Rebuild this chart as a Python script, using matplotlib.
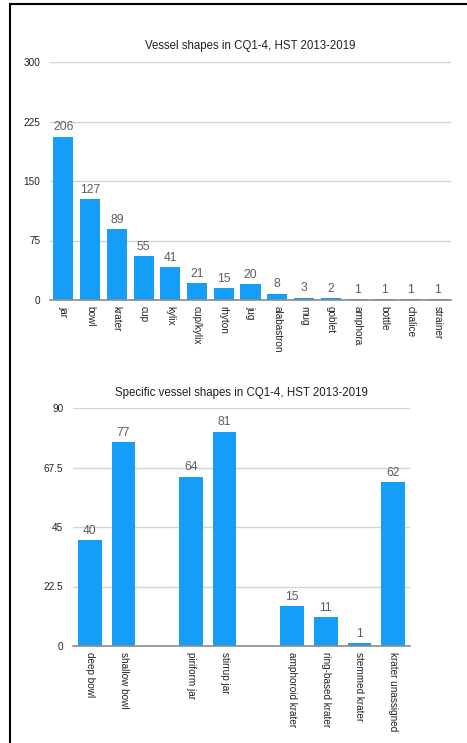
import matplotlib
matplotlib.use("Agg")
from matplotlib import pyplot as plt
from matplotlib.lines import Line2D

plt.rcParams["font.family"] = ["Liberation Sans", "DejaVu Sans"]

shapes = ["jar", "bowl", "krater", "cup", "kylix", "cup/kylix", "rhyton", "jug",
          "alabastron", "mug", "goblet", "amphora", "bottle", "chalice", "strainer"]
shape_counts = [206, 127, 89, 55, 41, 21, 15, 20, 8, 3, 2, 1, 1, 1, 1]

# blank slots are the empty columns between the groups
specific = ["deep bowl", "shallow bowl", "", "piriform jar", "stirrup jar", "",
            "amphoroid krater", "ring-based krater", "stemmed krater", "krater unassigned"]
specific_counts = [40, 77, None, 64, 81, None, 15, 11, 1, 62]

blue = "#169df7"
grid = "#d4d4d4"
label_col = "#5e5e5e"


def draw(ax, labels, values, ymax, step, title, width):
    xs = [i for i, v in enumerate(values) if v is not None]
    vs = [v for v in values if v is not None]
    ax.bar(xs, vs, width=width, color=blue, zorder=3)
    for x, v in zip(xs, vs):
        ax.text(x, v + ymax * 0.014, str(v), ha="center", va="bottom",
                fontsize=8.7, color=label_col, zorder=4)
    ax.set_xlim(-0.5, len(values) - 0.5)
    ax.set_ylim(0, ymax)
    ticks = [step * i for i in range(5)]
    ax.set_yticks(ticks)
    ax.set_yticklabels(["{:g}".format(t) for t in ticks])
    ax.set_xticks(xs)
    ax.set_xticklabels([labels[x] for x in xs], rotation=270, va="top", ha="center")
    ax.yaxis.grid(True, color=grid, linewidth=1, zorder=0)
    for s in ["top", "right", "left"]:
        ax.spines[s].set_visible(False)
    ax.spines["bottom"].set_color("#8a8a8a")
    ax.spines["bottom"].set_linewidth(1.2)
    ax.spines["bottom"].set_zorder(5)
    ax.tick_params(axis="both", length=0, labelsize=7.2, colors="#222222")
    ax.tick_params(axis="y", pad=7)
    ax.tick_params(axis="x", pad=4)
    ax.set_title(title, fontsize=8.3, color="#222222", pad=9)


fig = plt.figure(figsize=(4.67, 7.43), dpi=100)
ax1 = fig.add_axes([50 / 467, 1 - 300 / 743, 401 / 467, 238 / 743])
ax2 = fig.add_axes([73 / 467, 1 - 646 / 743, 337 / 467, 238 / 743])

draw(ax1, shapes, shape_counts, 300, 75, "Vessel shapes in CQ1-4, HST 2013-2019", 0.75)
draw(ax2, specific, specific_counts, 90, 22.5, "Specific vessel shapes in CQ1-4, HST 2013-2019", 0.7)

# page frame on the left and top
fig.add_artist(Line2D([9.5 / 467, 9.5 / 467], [0, 1 - 3.5 / 743], color="black", linewidth=1.5))
fig.add_artist(Line2D([9.5 / 467, 1], [1 - 3.5 / 743, 1 - 3.5 / 743], color="black", linewidth=1.5))

fig.savefig("out.png", dpi=100)
